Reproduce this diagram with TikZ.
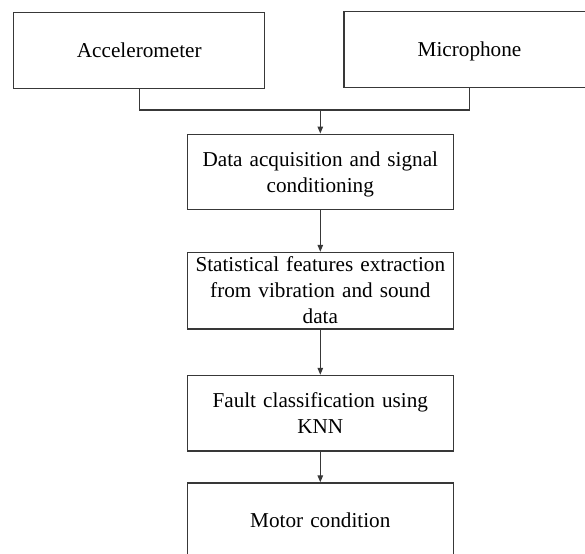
\documentclass[tikz,border=0pt]{standalone}
\usepackage{fontspec}
\setmainfont{Liberation Serif}
\usetikzlibrary{arrows.meta}
\newcommand{\bstrut}{\rule[-5pt]{0pt}{24.5pt}} % keeps the text a bit low in its box, as in the reference

\begin{document}
\begin{tikzpicture}[x=1pt,y=-1pt,
  block/.style={draw=black!78, line width=1.25pt, inner sep=0pt, minimum height=75.6pt,
    align=center, font=\fontsize{21.2}{26}\selectfont,
    execute at begin node=\bstrut, execute at end node=\bstrut},
  arr/.style={draw=black!78, line width=1.25pt, -{Triangle[length=7pt,width=5.5pt]}}]
\useasboundingbox (0,0) rectangle (585,553); %page size of the reference
\node[block, minimum width=251pt] (acc) at (139.3,50.5) {Accelerometer}; %first sensor
\node[block, minimum width=251pt] (mic) at (469.5,49.5) {Microphone}; %second sensor
\node[block, minimum width=266pt, text width=262pt] (daq) at (320.3,172) {Data acquisition and signal\\conditioning};
\node[block, minimum width=266pt, text width=262pt, minimum height=75.5pt] (feat) at (320.3,290.7) {Statistical features extraction\\from vibration and sound\\data};
\node[block, minimum width=266pt, text width=262pt] (knn) at (320.3,413.2) {Fault classification using\\KNN};
\node[block, minimum width=266pt, text width=262pt] (motor) at (320.3,520.7) {Motor condition}; %output
\coordinate (join) at (320.3,110); %where both sensor lines meet
\draw[draw=black!78, line width=1.25pt] (acc.south) |- (join) -| (mic.south); %sensor bus
\draw[arr] (join) -- (daq.north);
\draw[arr] (daq) -- (feat);
\draw[arr] (feat) -- (knn);
\draw[arr] (knn) -- (motor);
\end{tikzpicture}
\end{document}
